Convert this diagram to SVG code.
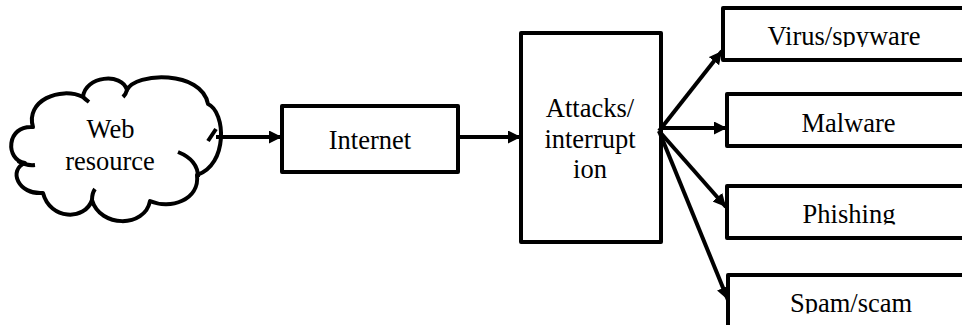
<svg xmlns="http://www.w3.org/2000/svg" width="962" height="325" viewBox="0 0 962 325" font-family="Liberation Serif, serif">
<style>
.box{fill:#fff;stroke:#000;stroke-width:4;stroke-linejoin:round}
.cloud{fill:#fff;stroke:#000;stroke-width:4;stroke-linejoin:round}
.inner{fill:none;stroke:#000;stroke-width:4;stroke-linecap:butt}
.t{fill:#000;text-anchor:middle}
.c{stroke:#000;stroke-width:4;fill:none}
</style>
<defs>
<marker id="ah" markerUnits="userSpaceOnUse" markerWidth="14" markerHeight="14" refX="13" refY="6.5" orient="auto">
<path d="M0,0 L13,6.5 L0,13 z" fill="#000"/>
</marker>
<clipPath id="cv"><rect x="725" y="10" width="240" height="37"/></clipPath>
<clipPath id="cp"><rect x="729" y="188" width="240" height="36.5"/></clipPath>
<clipPath id="cs"><rect x="730" y="277" width="240" height="36.5"/></clipPath>
</defs>
<rect width="962" height="325" fill="#fff"/>
<g id="web-resource">
<path class="cloud" d="M33,127 C25,101 60,86 83,97 C85,76 122,72 127,90 C135,72 202,70 208,104 C226,112 228,165 197,175 C200,200 170,210 150,201 C145,228 100,228 92,200 C85,221 50,220 43,193 C18,195 8,170 25,163 C5,160 6,125 33,127 Z"/>
<path class="inner" d="M18,161 Q26,166 35,165 M92,200 Q92,193 95,189 M178,152 Q198,160 198,177 M208,141 Q212,135 216,129 M83,97 Q85,99 89,102 M127,90 Q126,94 123,97"/>
<text class="t" x="110.5" y="138" font-family="Liberation Serif" font-size="26.5">Web</text>
<text class="t" x="110" y="170" font-family="Liberation Serif" font-size="26.5">resource</text>
</g>
<g id="internet">
<rect class="box" x="282" y="106" width="176" height="66"/>
<text class="t" x="370" y="149" font-family="Liberation Serif" font-size="26.5">Internet</text>
</g>
<g id="attacks">
<rect class="box" x="521" y="33" width="140" height="209"/>
<text class="t" x="590" y="117" font-family="Liberation Serif" font-size="26.5">Attacks/</text>
<text class="t" x="590" y="147.5" font-family="Liberation Serif" font-size="26.5">interrupt</text>
<text class="t" x="590" y="178" font-family="Liberation Serif" font-size="26.5">ion</text>
</g>
<g id="virus">
<rect class="box" x="723" y="8" width="250" height="52"/>
<text class="t" x="844" y="45" clip-path="url(#cv)" font-family="Liberation Serif" font-size="26.5">Virus/spyware</text>
</g>
<g id="malware">
<rect class="box" x="727" y="94" width="250" height="52"/>
<text class="t" x="848.5" y="131.7" font-family="Liberation Serif" font-size="26.5">Malware</text>
</g>
<g id="phishing">
<rect class="box" x="727" y="186" width="250" height="52"/>
<text class="t" x="849" y="223.3" clip-path="url(#cp)" font-family="Liberation Serif" font-size="26.5">Phishing</text>
</g>
<g id="spam">
<rect class="box" x="728" y="275" width="250" height="60"/>
<text class="t" x="851" y="311.7" clip-path="url(#cs)" font-family="Liberation Serif" font-size="26.5">Spam/scam</text>
</g>
<g id="connectors">
<line class="c" x1="216" y1="137" x2="282" y2="137" marker-end="url(#ah)"/>
<line class="c" x1="458" y1="137" x2="521" y2="137" marker-end="url(#ah)"/>
<line class="c" x1="659" y1="131" x2="722" y2="51" marker-end="url(#ah)"/>
<line class="c" x1="659" y1="128" x2="727" y2="128" marker-end="url(#ah)"/>
<line class="c" x1="659" y1="131" x2="726" y2="207" marker-end="url(#ah)"/>
<line class="c" x1="659" y1="131" x2="728" y2="300" marker-end="url(#ah)"/>
</g>
</svg>
